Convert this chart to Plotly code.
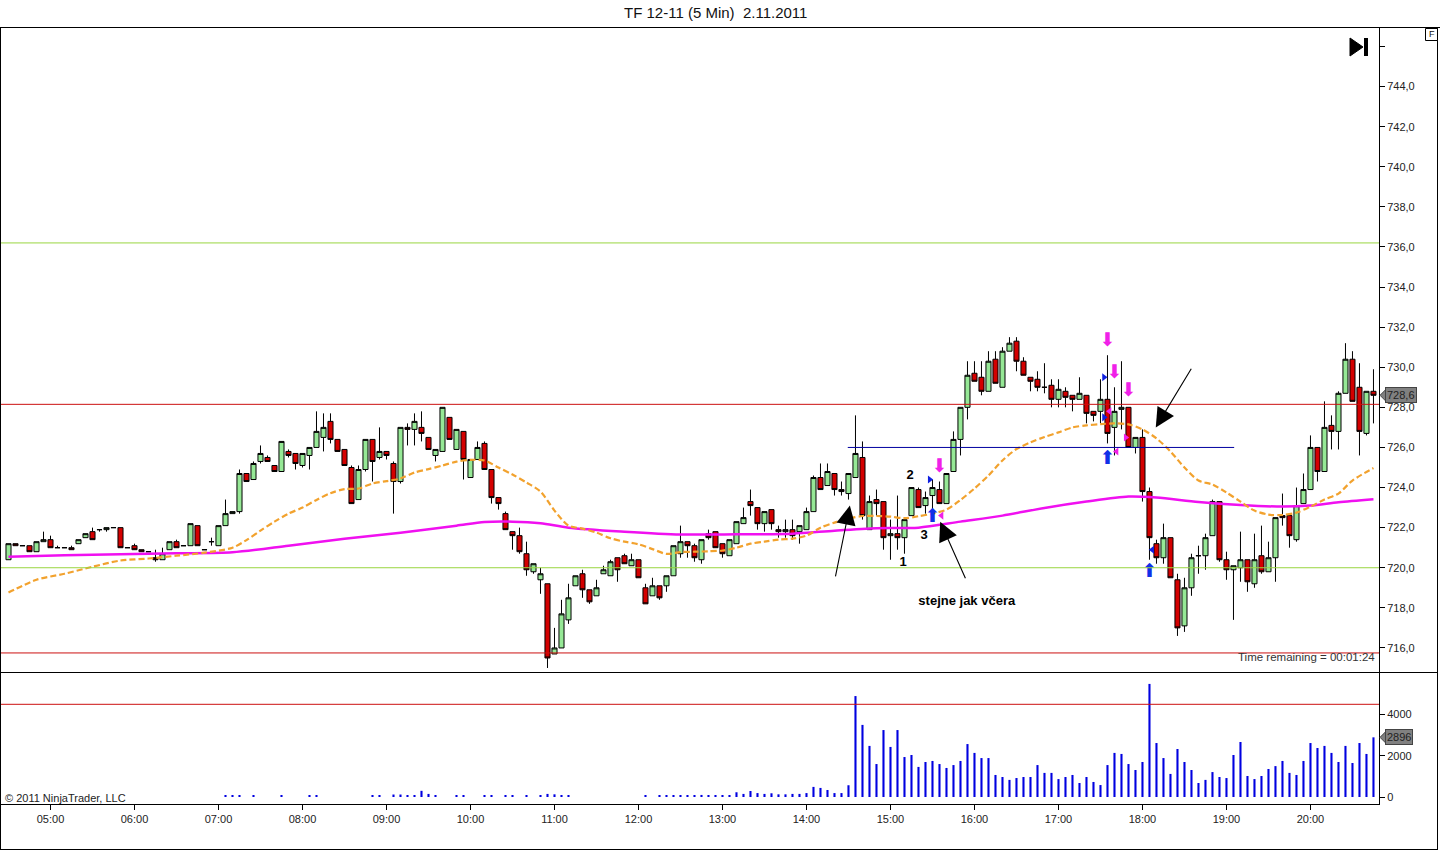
import numpy as np
import pandas as pd
import plotly.graph_objects as go

# ---------------- data (5 min bars, 04:30 .. 20:45) ----------------
opens = [720.4,721.2,721.1,721.1,720.8,721.3,721.4,721.0,721.0,721.0,
         721.2,721.5,721.8,721.9,721.9,722.0,722.0,721.0,721.1,720.9,
         720.8,720.5,720.4,720.9,721.3,721.1,721.1,722.1,720.9,721.3,
         721.1,722.1,722.7,722.8,724.7,724.4,725.3,725.5,725.1,724.8,
         725.8,725.7,725.1,725.6,726.0,726.5,727.3,726.4,725.9,725.0,
         723.4,724.9,726.4,725.5,725.8,725.2,724.3,727.0,726.9,727.0,
         726.5,725.6,725.8,727.5,725.9,726.8,724.5,725.4,726.2,724.9,
         723.5,722.7,721.8,721.6,720.7,719.8,719.4,719.2,715.7,716.0,
         717.4,719.1,719.7,718.9,718.6,719.7,719.6,720.5,720.6,720.1,
         720.4,719.0,718.6,719.1,719.1,719.6,720.7,721.3,721.1,720.4,
         721.7,721.8,721.2,720.6,721.2,722.2,723.3,723.0,722.2,722.9,
         721.9,721.8,721.9,721.8,721.9,722.8,724.5,724.1,724.7,723.9,
         723.7,724.5,725.5,721.9,723.4,723.3,721.6,721.7,721.5,722.6,
         723.9,723.1,723.6,723.9,723.2,724.8,726.4,728.0,729.7,729.5,
         728.8,730.4,729.0,730.8,731.3,730.3,729.5,729.4,729.0,729.1,
         728.4,728.8,728.6,728.4,728.6,727.8,727.8,728.4,727.0,727.9,
         728.0,726.0,726.5,723.8,721.2,720.5,721.5,719.4,717.1,719.0,
         720.6,720.6,721.6,723.3,720.4,719.9,720.0,720.4,719.2,720.6,
         719.8,720.5,722.6,722.6,721.4,723.2,723.9,726.0,724.8,727.1,
         726.8,728.7,730.4,729.0,726.7,728.8]
highs = [721.2,721.2,721.1,721.1,721.3,721.8,721.6,721.1,721.0,721.1,
         721.4,721.7,722.0,721.9,722.0,722.0,722.0,721.0,721.2,720.9,
         720.8,720.9,721.0,721.3,721.4,721.1,722.2,722.1,720.9,721.5,
         722.1,723.4,722.8,724.9,724.7,725.3,726.1,725.6,725.1,726.3,
         725.9,725.7,725.7,726.0,727.8,727.7,727.7,726.4,725.9,725.1,
         725.1,726.4,726.4,727.0,725.8,725.3,727.0,727.2,727.7,727.8,
         726.5,725.9,728.0,727.5,726.9,726.8,725.4,726.3,726.3,724.9,
         723.5,722.8,721.8,722.0,721.3,720.2,720.0,719.2,717.0,718.4,
         719.2,719.6,719.9,718.9,719.4,720.1,720.4,720.5,720.7,720.7,
         720.4,719.2,719.5,719.1,719.6,721.1,722.1,721.3,721.2,721.4,
         721.9,721.8,721.2,721.4,722.3,723.0,723.9,723.0,722.8,722.9,
         722.1,722.4,722.4,722.1,723.0,724.6,725.2,725.2,724.7,724.3,
         724.7,727.6,726.3,723.6,723.9,723.3,722.4,723.6,722.4,724.0,
         724.0,723.8,724.4,724.3,724.7,726.8,728.0,730.3,730.3,730.3,
         730.8,730.8,731.0,731.5,731.5,730.5,729.5,729.8,730.2,729.4,
         729.4,729.0,728.6,729.5,728.6,727.8,729.4,730.6,729.0,730.3,
         728.0,726.5,726.9,724.0,721.4,722.2,721.5,719.7,719.5,720.7,
         721.1,721.7,723.4,723.3,720.8,720.1,721.8,720.4,721.7,722.1,
         721.3,722.5,723.7,722.6,724.0,724.7,726.6,726.0,728.3,727.6,
         728.8,731.2,730.8,730.2,728.8,729.9]
lows = [720.4,721.1,721.1,720.8,720.8,721.3,721.0,721.0,721.0,720.9,
        721.2,721.5,721.4,721.8,721.8,722.0,721.0,721.0,720.9,720.8,
        720.8,720.3,720.4,720.9,721.0,721.1,721.1,721.1,720.9,721.1,
        721.1,722.1,722.7,722.7,724.3,724.4,725.2,725.3,724.8,724.8,
        725.5,724.9,725.0,724.9,726.0,725.8,726.2,725.8,725.1,723.2,
        723.4,724.8,724.3,725.4,725.4,722.7,724.2,726.1,726.1,726.3,
        725.9,725.3,725.8,726.4,725.9,724.4,724.5,725.4,724.9,723.2,
        722.9,721.9,720.9,720.7,719.6,719.7,718.7,715.0,715.7,716.0,
        717.2,719.1,718.5,718.2,718.6,719.7,719.6,719.3,720.2,720.1,
        719.5,718.2,718.6,718.4,718.8,719.6,720.5,720.5,720.3,720.2,
        721.4,721.0,720.5,720.6,721.2,722.2,722.6,721.9,721.8,721.9,
        721.5,721.5,721.4,721.2,721.9,722.8,723.9,724.1,723.6,723.6,
        723.4,724.5,722.4,721.9,722.6,720.9,720.4,720.9,720.7,722.6,
        723.0,722.7,722.7,723.2,723.2,724.8,725.6,727.4,729.3,728.6,
        728.8,729.2,729.0,730.8,729.8,729.6,728.8,728.8,728.7,728.0,
        728.0,728.0,727.8,728.4,727.2,727.3,727.2,726.2,725.6,726.9,
        726.0,725.7,723.3,720.4,720.2,720.2,719.5,716.6,716.8,718.6,
        719.7,719.9,721.6,720.3,719.4,717.4,719.3,718.8,719.0,719.7,
        719.8,719.3,722.1,721.0,721.3,723.2,723.9,724.3,724.8,725.9,
        725.9,728.7,728.3,725.6,726.6,727.2]
closes = [721.2,721.1,721.1,720.8,721.3,721.4,721.0,721.0,721.0,720.9,
          721.4,721.7,721.4,721.9,722.0,722.0,721.0,721.0,720.9,720.8,
          720.8,720.4,720.7,721.3,721.0,721.1,722.2,721.1,720.9,721.3,
          722.1,722.7,722.8,724.7,724.3,725.2,725.7,725.3,724.8,726.3,
          725.6,725.2,725.7,726.0,726.8,727.0,726.4,725.8,725.1,723.2,
          724.9,726.4,725.3,725.8,725.6,724.3,727.0,726.9,727.3,726.7,
          725.9,725.9,728.0,726.4,726.9,725.4,725.4,726.0,724.9,723.5,
          723.2,721.9,721.6,720.8,719.9,720.2,719.7,715.5,716.0,717.7,
          718.5,719.6,718.9,718.3,719.0,719.9,720.3,719.9,720.2,720.4,
          719.5,718.2,719.1,718.5,719.6,721.1,721.3,721.1,720.5,721.4,
          721.5,721.0,720.7,721.4,722.3,722.5,723.1,722.2,722.8,722.2,
          721.8,721.9,721.6,722.1,722.8,724.5,723.9,724.8,723.9,723.8,
          724.7,725.7,722.6,723.3,723.2,721.5,721.7,721.5,722.4,724.0,
          723.0,723.5,724.0,723.2,724.7,726.4,728.0,729.6,729.3,728.8,
          730.3,729.2,730.8,731.2,730.3,729.6,729.3,729.0,729.0,728.4,
          728.9,728.5,728.4,728.7,727.7,727.6,728.4,726.7,727.8,728.0,
          726.0,726.5,723.8,721.5,720.5,721.5,719.5,717.0,719.0,720.5,
          720.6,721.5,723.3,720.4,719.9,720.1,720.4,719.3,720.4,719.8,
          720.5,722.5,722.5,721.6,723.1,723.9,726.0,724.8,727.0,726.8,
          728.7,730.4,728.3,726.8,728.8,728.6]
volumes = [0,0,0,0,0,0,0,0,0,0,
           0,0,0,0,0,0,0,0,0,0,
           0,0,0,0,0,0,0,0,0,0,
           0,60,60,60,0,60,0,0,0,60,
           0,0,0,60,60,0,0,0,0,0,
           0,0,60,60,0,120,120,60,60,300,
           150,60,0,0,60,60,0,0,60,60,
           0,60,60,0,60,0,60,150,130,60,
           60,0,0,0,0,0,0,0,0,0,
           0,60,0,60,60,60,60,60,60,100,
           60,60,80,80,230,150,290,190,150,180,
           130,130,150,150,190,490,440,340,190,190,
           570,4900,3500,2480,1600,3250,2430,3250,1940,2040,
           1460,1700,1750,1600,1410,1550,1750,2570,2140,1890,
           1890,1070,970,830,920,970,970,1550,1170,1170,
           870,970,1070,680,970,730,580,1550,2140,2090,
           1600,1310,1700,5490,2620,1890,1120,2330,1700,1310,
           680,830,1210,970,920,2040,2670,1020,870,1020,
           1360,1500,1750,1170,1070,1750,2620,2380,2480,2140,
           1700,2480,1650,2620,2090,2896]

times = pd.date_range("2011-11-02 04:30", periods=len(closes), freq="5min")
bar_idx = np.arange(len(closes))

ema_idx = [0,4,8,12,16,20,24,28,32,34,36,38,40,42,44,46,48,50,52,54,56,58,60,62,64,66,
           68,70,72,74,76,78,80,82,84,86,88,90,92,94,96,98,100,102,104,106,108,110,112,
           114,116,118,120,122,124,126,128,130,132,134,136,138,140,142,144,146,148,150,
           152,154,156,158,160,162,164,166,168,170,172,174,176,178,180,182,184,186,188,
           190,192,195]
ema_val = [718.76,719.4,719.7,720.05,720.36,720.46,720.6,720.75,721.0,721.38,721.85,722.3,
           722.7,723.0,723.38,723.72,723.92,723.95,724.2,724.32,724.45,724.75,724.92,725.1,
           725.29,725.38,725.35,725.0,724.65,724.25,723.8,722.85,722.1,721.95,721.75,721.47,
           721.3,721.17,720.93,720.69,720.78,720.8,720.82,720.86,721.0,721.2,721.3,721.4,
           721.45,721.6,722.0,722.25,722.45,722.58,722.58,722.55,722.47,722.57,722.7,722.9,
           723.38,723.95,724.6,725.35,725.92,726.25,726.52,726.75,727.0,727.1,727.16,727.2,
           727.15,726.9,726.45,725.8,725.0,724.35,724.15,723.75,723.3,722.85,722.65,722.63,
           722.75,723.05,723.4,723.7,724.35,724.97]
# magenta average
sma_idx = [0,8,16,24,32,40,48,56,64,68,72,76,80,88,96,104,112,118,124,130,136,142,148,
           154,160,164,170,176,182,186,190,195]
sma_val = [720.55,720.62,720.67,720.72,720.77,721.1,721.45,721.75,722.1,722.28,722.3,722.22,
           722.0,721.8,721.66,721.67,721.7,721.85,721.97,722.0,722.3,722.6,722.98,723.3,
           723.55,723.5,723.28,723.13,723.05,723.1,723.27,723.42]

green_levels = [736.2, 720.0]
red_levels = [728.15, 715.75]
blue_level = 726.0
blue_span = [119.9, 175.1]
vol_level = 4500

# signal markers (bar position, price)
sig_down = ([133, 157, 158, 160], [725.0, 731.3, 729.7, 728.8])
sig_up = ([132, 157, 163], [722.5, 725.4, 719.8])
blue_right = ([131.6, 156.5, 156.5], [724.4, 729.5, 727.5])
blue_left = ([163.4], [720.9])
mag_left = ([133.3, 157.3, 158.3], [722.6, 727.8, 725.8])
mag_right = ([159.6], [726.5])

labels_txt = ["2", "3", "1", "stejne jak včera"]
labels_x = [128.8, 130.8, 127.8, 136.9]
labels_y = [724.6, 721.6, 720.25, 718.3]

arrows = [  # (head_x, head_y, tail_x, tail_y)
    (120.2, 723.1, 118.1, 719.5),
    (133.1, 722.3, 136.8, 719.4),
    (163.9, 727.0, 169.1, 730.0),
]

price_ticks = [716 + 2 * k for k in range(16)]
vol_ticks = [0, 2000, 4000]

# ---------------- layout geometry ----------------
W, H = 1440, 850
AX_X = 1379
def px(x): return x / W
def py(y): return 1 - y / H

FONT = "Liberation Sans, Arial, sans-serif"

fig = go.Figure()

fig.add_trace(go.Candlestick(
    x=bar_idx, open=opens, high=highs, low=lows, close=closes,
    increasing=dict(line=dict(color="black", width=1), fillcolor="#96E896"),
    decreasing=dict(line=dict(color="black", width=1), fillcolor="#D40000"),
    whiskerwidth=0, xaxis="x", yaxis="y", showlegend=False, hoverinfo="skip"))

fig.add_trace(go.Scatter(x=sma_idx, y=sma_val, mode="lines", line=dict(color="#F010F0", width=2.5, shape="spline", smoothing=0.8),
                         xaxis="x", yaxis="y", showlegend=False, hoverinfo="skip"))
fig.add_trace(go.Scatter(x=ema_idx, y=ema_val, mode="lines",
                         line=dict(color="#F2A22E", width=2.2, dash="6px,3px", shape="spline", smoothing=0.8),
                         xaxis="x", yaxis="y", showlegend=False, hoverinfo="skip"))

fig.add_trace(go.Bar(x=bar_idx, y=volumes, marker=dict(color="#0000E0", line=dict(width=0)), width=0.3,
                     xaxis="x", yaxis="y2", showlegend=False, hoverinfo="skip"))

# signal markers
fig.add_trace(go.Scatter(x=sig_down[0], y=sig_down[1], mode="text", text=["⬇"] * len(sig_down[0]),
                         textfont=dict(color="#F020E8", size=19, family="DejaVu Sans"),
                         xaxis="x", yaxis="y", showlegend=False, hoverinfo="skip"))
fig.add_trace(go.Scatter(x=sig_up[0], y=sig_up[1], mode="text", text=["⬆"] * len(sig_up[0]),
                         textfont=dict(color="#1030E8", size=19, family="DejaVu Sans"),
                         xaxis="x", yaxis="y", showlegend=False, hoverinfo="skip"))
for (xs, ys), sym, col in [(blue_right, "triangle-right", "#1020E0"), (blue_left, "triangle-left", "#1020E0"),
                           (mag_left, "triangle-left", "#F020E8"), (mag_right, "triangle-right", "#F020E8")]:
    fig.add_trace(go.Scatter(x=xs, y=ys, mode="markers", marker=dict(symbol=sym, size=7, color=col),
                             xaxis="x", yaxis="y", showlegend=False, hoverinfo="skip"))

fig.add_trace(go.Scatter(x=labels_x, y=labels_y, mode="text", text=labels_txt,
                         textfont=dict(color="black", size=13, family=FONT, weight="bold"),
                         xaxis="x", yaxis="y", showlegend=False, hoverinfo="skip"))

shapes = []
for lv in green_levels:
    shapes.append(dict(type="line", xref="paper", yref="y", x0=0, x1=px(AX_X), y0=lv, y1=lv,
                       line=dict(color="#99D640", width=1)))
for lv in red_levels:
    shapes.append(dict(type="line", xref="paper", yref="y", x0=0, x1=px(AX_X), y0=lv, y1=lv,
                       line=dict(color="#CC1010", width=1)))
shapes.append(dict(type="line", xref="x", yref="y", x0=blue_span[0], x1=blue_span[1], y0=blue_level, y1=blue_level,
                   line=dict(color="#0000A0", width=1)))
shapes.append(dict(type="line", xref="paper", yref="y2", x0=0, x1=px(AX_X), y0=vol_level, y1=vol_level,
                   line=dict(color="#CC1010", width=1)))
# frame lines
for (x0, y0, x1, y1) in [(0, 27.5, W, 27.5), (0.5, 27.5, 0.5, 849.5), (1437.5, 27.5, 1437.5, 849.5),
                         (0, 849.5, 1438, 849.5), (0, 672.5, 1438, 672.5)]:
    shapes.append(dict(type="line", xref="paper", yref="paper", x0=px(x0), x1=px(x1), y0=py(y0), y1=py(y1),
                       line=dict(color="black", width=1)))
# "F" box
shapes.append(dict(type="rect", xref="paper", yref="paper", x0=px(1425.5), x1=px(1437.5), y0=py(40.5), y1=py(28.5),
                   line=dict(color="black", width=1), fillcolor="white"))
# play-to-end icon
shapes.append(dict(type="path", xref="paper", yref="paper",
                   path=f"M {px(1350)},{py(38)} L {px(1363)},{py(47)} L {px(1350)},{py(56)} Z",
                   fillcolor="black", line=dict(color="black", width=1)))
shapes.append(dict(type="rect", xref="paper", yref="paper", x0=px(1364), x1=px(1368), y0=py(56), y1=py(38),
                   fillcolor="black", line=dict(color="black", width=0)))

last_price = closes[-1]
last_vol = volumes[-1]

# pointers of the last-value labels (price: 20.05 px/unit, volume: 0.0206 px/unit)
d_p = 6 / 20.05
d_v = 6 / 0.0206
shapes.append(dict(type="path", xref="paper", yref="y",
                   path=f"M {px(1380)},{last_price} L {px(1386)},{last_price + d_p} L {px(1386)},{last_price - d_p} Z",
                   fillcolor="#808080", line=dict(color="#444", width=1)))
shapes.append(dict(type="path", xref="paper", yref="y2",
                   path=f"M {px(1380)},{last_vol} L {px(1386)},{last_vol + d_v} L {px(1386)},{last_vol - d_v} Z",
                   fillcolor="#808080", line=dict(color="#444", width=1)))

annotations = [
    dict(text="TF 12-11 (5 Min)\u00a0 2.11.2011", xref="paper", yref="paper", x=px(715), y=py(13),
         showarrow=False, font=dict(family=FONT, size=15, color="#111"), xanchor="center", yanchor="middle"),
    dict(text="F", xref="paper", yref="paper", x=px(1431.5), y=py(34.5), showarrow=False,
         font=dict(family=FONT, size=9, color="#111"), xanchor="center", yanchor="middle"),
    dict(text="© 2011 NinjaTrader, LLC", xref="paper", yref="paper", x=px(3), y=py(798),
         showarrow=False, font=dict(family=FONT, size=11, color="#222"), xanchor="left", yanchor="middle"),
    dict(text="Time remaining = 00:01:24", xref="paper", yref="paper", x=px(1377), y=py(657),
         showarrow=False, font=dict(family=FONT, size=11.5, color="#333"), xanchor="right", yanchor="middle"),
    dict(text=f"{last_price:.1f}".replace(".", ","), xref="paper", yref="y", x=px(1385), y=last_price,
         showarrow=False, font=dict(family=FONT, size=11, color="#222"), xanchor="left", yanchor="middle",
         bgcolor="#808080", bordercolor="#444", borderwidth=1, borderpad=1),
    dict(text=f"{last_vol}", xref="paper", yref="y2", x=px(1385), y=last_vol,
         showarrow=False, font=dict(family=FONT, size=11, color="#222"), xanchor="left", yanchor="middle",
         bgcolor="#808080", bordercolor="#444", borderwidth=1, borderpad=1),
]
for hx, hy, tx, ty in arrows:
    annotations.append(dict(x=hx, y=hy, ax=tx, ay=ty, xref="x", yref="y", axref="x", ayref="y",
                            showarrow=True, arrowhead=2, arrowsize=3.5, arrowwidth=1.1,
                            arrowcolor="black", text=""))

price_txt = [f"{v:.1f}".replace(".", ",") for v in price_ticks]
price_txt[-1] = ""

fig.update_layout(
    width=W, height=H, margin=dict(l=0, r=0, t=0, b=0),
    paper_bgcolor="white", plot_bgcolor="white",
    boxgap=0.15, boxgroupgap=0.15,
    shapes=shapes, annotations=annotations,
    xaxis=dict(domain=[0, px(AX_X)], anchor="y2", range=[-1.214, 195.79],
               tickvals=[i for i, t in enumerate(times) if t.minute == 0],
               ticktext=[t.strftime("%H:%M") for t in times if t.minute == 0],
               ticks="outside", ticklen=5, tickcolor="black", showline=True, linecolor="black",
               showgrid=False, zeroline=False, rangeslider=dict(visible=False),
               tickfont=dict(family=FONT, size=11, color="#222")),
    yaxis=dict(domain=[py(672), py(28)], anchor="x", side="right", range=[714.80, 746.92],
               tickvals=price_ticks, ticktext=price_txt, ticks="outside", ticklen=5, tickcolor="black",
               showline=True, linecolor="black", showgrid=False, zeroline=False,
               tickfont=dict(family=FONT, size=11, color="#222")),
    yaxis2=dict(domain=[py(804), py(672)], anchor="x", side="right", range=[-340, 6068],
                tickvals=vol_ticks, ticktext=[str(v) for v in vol_ticks], ticks="outside", ticklen=5,
                tickcolor="black", showline=True, linecolor="black", showgrid=False, zeroline=False,
                tickfont=dict(family=FONT, size=11, color="#222")),
    hovermode=False,
)

fig.write_html("out.html", config={"displayModeBar": False},
               post_script="document.body.style.margin='0';document.body.style.overflow='hidden';")
